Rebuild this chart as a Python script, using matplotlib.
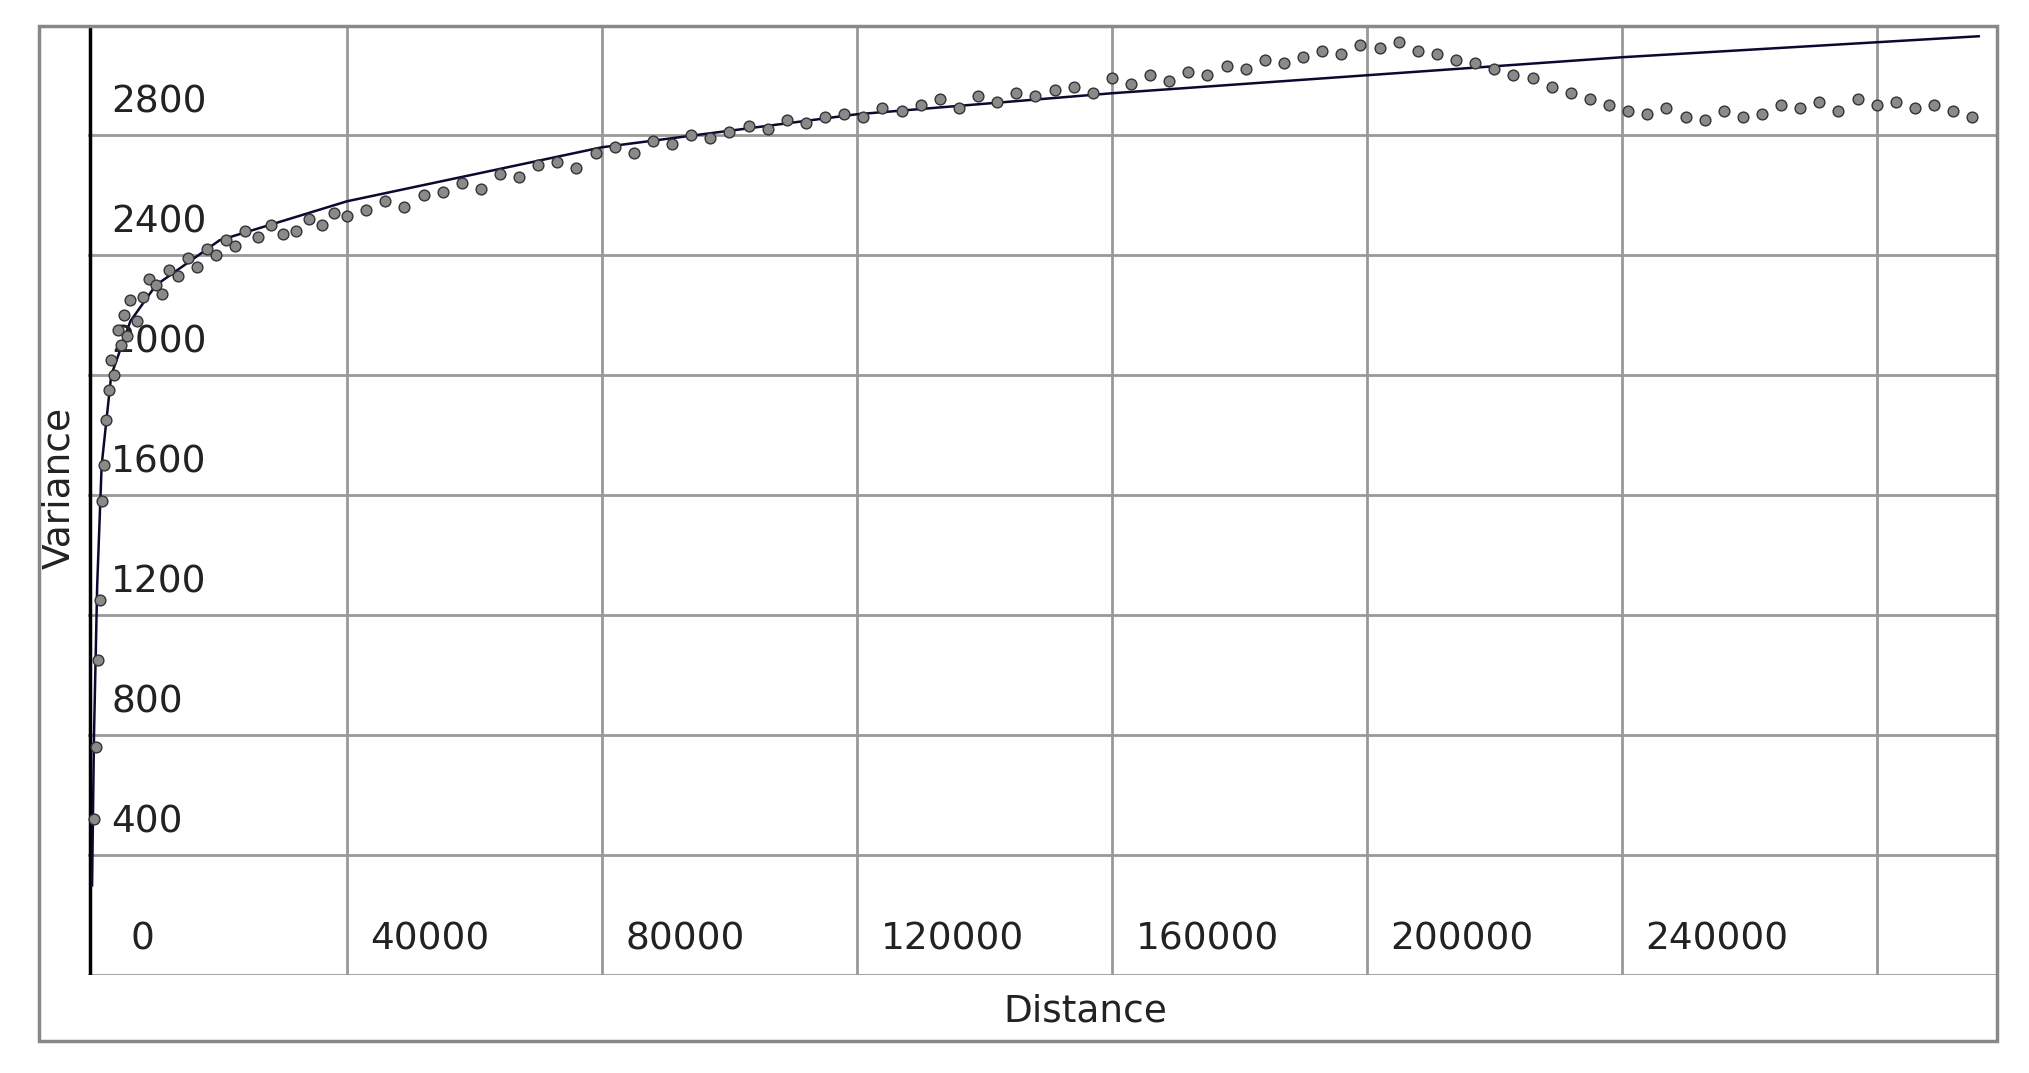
import matplotlib
matplotlib.use("Agg")
import matplotlib.pyplot as plt
from matplotlib.patches import Rectangle

# scatter data (distance, variance)
dist = [300,600,900,1200,1500,1800,2200,2600,3000,3500,4000,4500,5000,5500,6000,7000,8000,9000,10000,11000,12000,13500,15000,16500,18000,19500,21000,22500,24000,26000,28000,30000,32000,34000,36000,38000,40000,43000,46000,49000,52000,55000,58000,61000,64000,67000,70000,73000,76000,79000,82000,85000,88000,91000,94000,97000,100000,103000,106000,109000,112000,115000,118000,121000,124000,127000,130000,133000,136000,139000,142000,145000,148000,151000,154000,157000,160000,163000,166000,169000,172000,175000,178000,181000,184000,187000,190000,193000,196000,199000,202000,205000,208000,211000,214000,217000,220000,223000,226000,229000,232000,235000,238000,241000,244000,247000,250000,253000,256000,259000,262000,265000,268000,271000,274000,277000,280000,283000,286000,289000,292000,295000]
var = [520,760,1050,1250,1580,1700,1850,1950,2050,2000,2150,2100,2200,2130,2250,2180,2260,2320,2300,2270,2350,2330,2390,2360,2420,2400,2450,2430,2480,2460,2500,2470,2480,2520,2500,2540,2530,2550,2580,2560,2600,2610,2640,2620,2670,2660,2700,2710,2690,2740,2760,2740,2780,2770,2800,2790,2810,2830,2820,2850,2840,2860,2870,2860,2890,2880,2900,2920,2890,2930,2910,2940,2930,2950,2960,2940,2990,2970,3000,2980,3010,3000,3030,3020,3050,3040,3060,3080,3070,3100,3090,3110,3080,3070,3050,3040,3020,3000,2990,2960,2940,2920,2900,2880,2870,2890,2860,2850,2880,2860,2870,2900,2890,2910,2880,2920,2900,2910,2890,2900,2880,2860]

# fitted model curve
fit_x = [0,300,800,1500,3000,6000,10000,20000,40000,80000,120000,160000,200000,240000,280000,296000]
fit_y = [300,800,1300,1700,2000,2180,2300,2450,2580,2760,2870,2940,3000,3060,3110,3130]

yticks = [400,800,1200,1600,2000,2400,2800]
xticks = [0,40000,80000,120000,160000,200000,240000]
xgrid = [40000,80000,120000,160000,200000,240000,280000]

fig = plt.figure(figsize=(20.29,10.73), dpi=100)
fig.patches.append(Rectangle((0.019,0.03),0.965,0.946,transform=fig.transFigure,
                             fill=False,edgecolor="#888888",lw=2.5))
ax = fig.add_axes([0.0435,0.091,0.9405,0.885])
ax.set_xlim(-600,298800)
ax.set_ylim(0,3165)
for g in xgrid:
    ax.axvline(g,color="#999999",lw=2)
for g in yticks+[0]:
    ax.axhline(g,color="#999999",lw=2)
ax.axvline(-400,color="black",lw=2.5)
ax.plot(fit_x,fit_y,color="#0a0a30",lw=1.8,zorder=3)
ax.scatter(dist,var,s=60,c="#8a8a8a",edgecolors="#333333",linewidths=1,zorder=4)
for t in yticks:
    ax.text(3000,t+110,str(t),fontsize=27,va="center",ha="left",color="#222222")
for t in xticks:
    ax.text(t+(6000 if t==0 else 3700),120,str(t),fontsize=27,va="center",ha="left",color="#222222")
for s in ax.spines.values():
    s.set_visible(False)
ax.spines["right"].set_visible(True); ax.spines["right"].set_color("#999999"); ax.spines["right"].set_linewidth(2)
ax.spines["top"].set_visible(True); ax.spines["top"].set_color("#999999"); ax.spines["top"].set_linewidth(2)
ax.set_xticks([]); ax.set_yticks([])
fig.text(0.535,0.057,"Distance",fontsize=27,ha="center",va="center",color="#222222")
fig.text(0.029,0.545,"Variance",fontsize=27,ha="center",va="center",rotation=90,color="#222222")
fig.savefig("out.png",dpi=100)
